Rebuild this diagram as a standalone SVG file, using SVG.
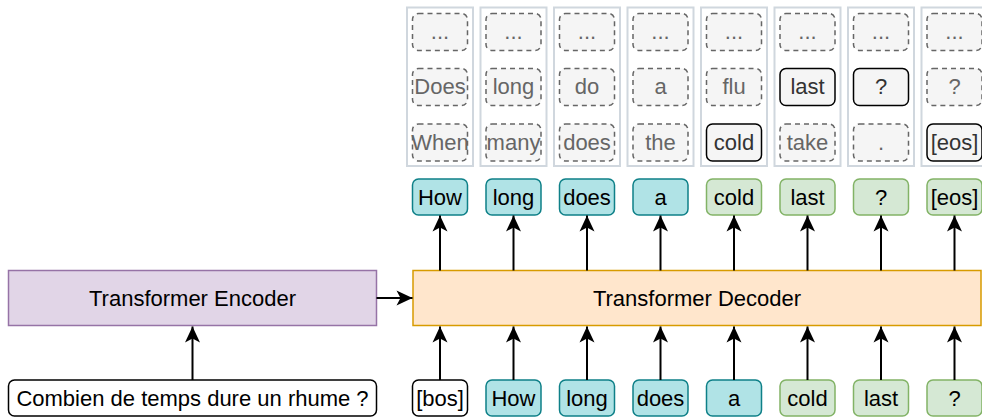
<svg xmlns="http://www.w3.org/2000/svg" width="982" height="417" viewBox="0 0 982 417">
<defs>
<marker id="arr" markerUnits="userSpaceOnUse" markerWidth="18" markerHeight="18" viewBox="-17 -9 18 18" refX="0" refY="0" orient="auto">
<path d="M0,0 L-16,-7.5 L-12,0 L-16,7.5 Z" fill="#000"/>
</marker>
<style>
text{font-family:"Liberation Sans",Arial,sans-serif;font-size:22px;text-anchor:middle;fill:#000}
.panel{fill:#fff;stroke:#d0d7de;stroke-width:2}
.dash{fill:#f5f5f5;stroke:#666;stroke-width:1.5;stroke-dasharray:5 4}
.gt{fill:#666}
.sel{fill:#f5f5f5;stroke:#000;stroke-width:1.5}
.st{fill:#333}
.teal{fill:#b0e3e6;stroke:#0e8088;stroke-width:1.5}
.green{fill:#d5e8d4;stroke:#82b366;stroke-width:1.5}
.plain{fill:#fff;stroke:#000;stroke-width:1.5}
.enc{fill:#e1d5e7;stroke:#9673a6;stroke-width:1.5}
.dec{fill:#ffe6cc;stroke:#d79b00;stroke-width:1.5}
.conn line{stroke:#000;stroke-width:2;marker-end:url(#arr)}
</style>
</defs>

<g id="panel1"><rect class="panel" x="407" y="7.5" width="66" height="158.5"/>
<rect class="dash" x="412.5" y="13.5" width="55" height="37" rx="6"/><text class="gt" x="440" y="39">...</text>
<rect class="dash" x="412.5" y="68.5" width="55" height="37" rx="6"/><text class="gt" x="440" y="94">Does</text>
<rect class="dash" x="412.5" y="124" width="55" height="37" rx="6"/><text class="gt" x="440" y="149.5">When</text></g>

<g id="panel2"><rect class="panel" x="480.5" y="7.5" width="66" height="158.5"/>
<rect class="dash" x="486" y="13.5" width="55" height="37" rx="6"/><text class="gt" x="513.5" y="39">...</text>
<rect class="dash" x="486" y="68.5" width="55" height="37" rx="6"/><text class="gt" x="513.5" y="94">long</text>
<rect class="dash" x="486" y="124" width="55" height="37" rx="6"/><text class="gt" x="513.5" y="149.5">many</text></g>

<g id="panel3"><rect class="panel" x="554" y="7.5" width="66" height="158.5"/>
<rect class="dash" x="559.5" y="13.5" width="55" height="37" rx="6"/><text class="gt" x="587" y="39">...</text>
<rect class="dash" x="559.5" y="68.5" width="55" height="37" rx="6"/><text class="gt" x="587" y="94">do</text>
<rect class="dash" x="559.5" y="124" width="55" height="37" rx="6"/><text class="gt" x="587" y="149.5">does</text></g>

<g id="panel4"><rect class="panel" x="627.5" y="7.5" width="66" height="158.5"/>
<rect class="dash" x="633" y="13.5" width="55" height="37" rx="6"/><text class="gt" x="660.5" y="39">...</text>
<rect class="dash" x="633" y="68.5" width="55" height="37" rx="6"/><text class="gt" x="660.5" y="94">a</text>
<rect class="dash" x="633" y="124" width="55" height="37" rx="6"/><text class="gt" x="660.5" y="149.5">the</text></g>

<g id="panel5"><rect class="panel" x="701" y="7.5" width="66" height="158.5"/>
<rect class="dash" x="706.5" y="13.5" width="55" height="37" rx="6"/><text class="gt" x="734" y="39">...</text>
<rect class="dash" x="706.5" y="68.5" width="55" height="37" rx="6"/><text class="gt" x="734" y="94">flu</text>
<rect class="sel" x="706.5" y="124" width="55" height="37" rx="6"/><text class="st" x="734" y="149.5">cold</text></g>

<g id="panel6"><rect class="panel" x="774.5" y="7.5" width="66" height="158.5"/>
<rect class="dash" x="780" y="13.5" width="55" height="37" rx="6"/><text class="gt" x="807.5" y="39">...</text>
<rect class="sel" x="780" y="68.5" width="55" height="37" rx="6"/><text class="st" x="807.5" y="94">last</text>
<rect class="dash" x="780" y="124" width="55" height="37" rx="6"/><text class="gt" x="807.5" y="149.5">take</text></g>

<g id="panel7"><rect class="panel" x="848" y="7.5" width="66" height="158.5"/>
<rect class="dash" x="853.5" y="13.5" width="55" height="37" rx="6"/><text class="gt" x="881" y="39">...</text>
<rect class="sel" x="853.5" y="68.5" width="55" height="37" rx="6"/><text class="st" x="881" y="94">?</text>
<rect class="dash" x="853.5" y="124" width="55" height="37" rx="6"/><text class="gt" x="881" y="149.5">.</text></g>

<g id="panel8"><rect class="panel" x="921.5" y="7.5" width="66" height="158.5"/>
<rect class="dash" x="927" y="13.5" width="55" height="37" rx="6"/><text class="gt" x="954.5" y="39">...</text>
<rect class="dash" x="927" y="68.5" width="55" height="37" rx="6"/><text class="gt" x="954.5" y="94">?</text>
<rect class="sel" x="927" y="124" width="55" height="37" rx="6"/><text class="st" x="954.5" y="149.5">[eos]</text></g>

<g id="out1"><rect class="teal" x="412.5" y="179" width="55" height="36" rx="6"/><text x="440" y="204.5">How</text></g>
<g id="out2"><rect class="teal" x="486" y="179" width="55" height="36" rx="6"/><text x="513.5" y="204.5">long</text></g>
<g id="out3"><rect class="teal" x="559.5" y="179" width="55" height="36" rx="6"/><text x="587" y="204.5">does</text></g>
<g id="out4"><rect class="teal" x="633" y="179" width="55" height="36" rx="6"/><text x="660.5" y="204.5">a</text></g>
<g id="out5"><rect class="green" x="706.5" y="179" width="55" height="36" rx="6"/><text x="734" y="204.5">cold</text></g>
<g id="out6"><rect class="green" x="780" y="179" width="55" height="36" rx="6"/><text x="807.5" y="204.5">last</text></g>
<g id="out7"><rect class="green" x="853.5" y="179" width="55" height="36" rx="6"/><text x="881" y="204.5">?</text></g>
<g id="out8"><rect class="green" x="927" y="179" width="55" height="36" rx="6"/><text x="954.5" y="204.5">[eos]</text></g>

<g id="encoder"><rect class="enc" x="8.5" y="270.5" width="368" height="55"/><text x="192.5" y="305.5">Transformer Encoder</text></g>
<g id="decoder"><rect class="dec" x="413" y="270.5" width="568" height="55"/><text x="697" y="305.5">Transformer Decoder</text></g>

<g id="source"><rect class="plain" x="8.5" y="380" width="368" height="36" rx="6"/><text x="192.5" y="405.5">Combien de temps dure un rhume ?</text></g>

<g id="in1"><rect class="plain" x="412.5" y="380" width="55" height="36" rx="6"/><text x="440" y="405.5">[bos]</text></g>
<g id="in2"><rect class="teal" x="486" y="380" width="55" height="36" rx="6"/><text x="513.5" y="405.5">How</text></g>
<g id="in3"><rect class="teal" x="559.5" y="380" width="55" height="36" rx="6"/><text x="587" y="405.5">long</text></g>
<g id="in4"><rect class="teal" x="633" y="380" width="55" height="36" rx="6"/><text x="660.5" y="405.5">does</text></g>
<g id="in5"><rect class="teal" x="706.5" y="380" width="55" height="36" rx="6"/><text x="734" y="405.5">a</text></g>
<g id="in6"><rect class="green" x="780" y="380" width="55" height="36" rx="6"/><text x="807.5" y="405.5">cold</text></g>
<g id="in7"><rect class="green" x="853.5" y="380" width="55" height="36" rx="6"/><text x="881" y="405.5">last</text></g>
<g id="in8"><rect class="green" x="927" y="380" width="55" height="36" rx="6"/><text x="954.5" y="405.5">?</text></g>

<g id="connectors" class="conn">
<line x1="192.5" y1="380" x2="192.5" y2="326.5"/>
<line x1="376.5" y1="298" x2="412.5" y2="298"/>
<line x1="440" y1="380" x2="440" y2="326.5"/>
<line x1="513.5" y1="380" x2="513.5" y2="326.5"/>
<line x1="587" y1="380" x2="587" y2="326.5"/>
<line x1="660.5" y1="380" x2="660.5" y2="326.5"/>
<line x1="734" y1="380" x2="734" y2="326.5"/>
<line x1="807.5" y1="380" x2="807.5" y2="326.5"/>
<line x1="881" y1="380" x2="881" y2="326.5"/>
<line x1="954.5" y1="380" x2="954.5" y2="326.5"/>
<line x1="440" y1="270.5" x2="440" y2="215.5"/>
<line x1="513.5" y1="270.5" x2="513.5" y2="215.5"/>
<line x1="587" y1="270.5" x2="587" y2="215.5"/>
<line x1="660.5" y1="270.5" x2="660.5" y2="215.5"/>
<line x1="734" y1="270.5" x2="734" y2="215.5"/>
<line x1="807.5" y1="270.5" x2="807.5" y2="215.5"/>
<line x1="881" y1="270.5" x2="881" y2="215.5"/>
<line x1="954.5" y1="270.5" x2="954.5" y2="215.5"/>
</g>
</svg>
